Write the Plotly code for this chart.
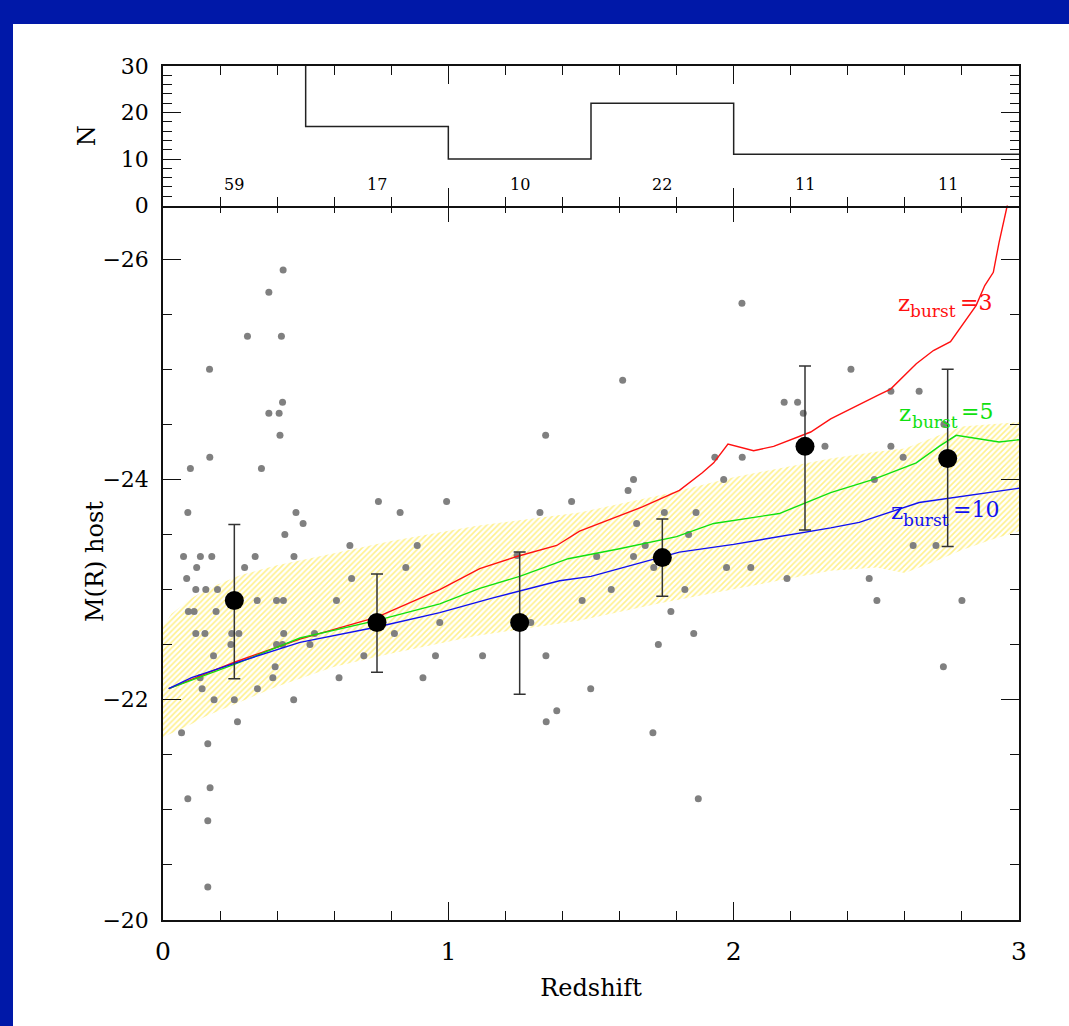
import plotly.graph_objects as go

# ---------------- data ----------------
# host galaxies: redshift / absolute magnitude M(R)
host_z = [0.421, 0.371, 0.296, 0.415, 0.163, 0.419, 0.371, 0.407, 0.410, 0.164,
          0.096, 0.345, 0.087, 0.466, 0.491, 0.427, 0.072, 0.131, 0.171, 0.323,
          0.459, 0.118, 0.286, 0.083, 0.115, 0.150, 0.191, 0.330, 0.398, 0.422,
          0.608, 0.089, 0.109, 0.186, 0.115, 0.147, 0.241, 0.266, 0.423, 0.238,
          0.398, 0.419, 0.177, 0.393, 0.130, 0.385, 0.617, 0.137, 0.331, 0.179,
          0.250, 0.458, 0.261, 0.065, 0.157, 0.087, 0.165, 0.157, 0.157,
          0.531, 0.515, 0.755, 0.994, 0.831, 0.655, 0.891, 0.851, 0.661, 0.970,
          0.811, 0.704, 0.955, 0.911,
          1.432, 1.321, 1.241, 1.289, 1.120, 1.342, 1.380, 1.343, 1.341, 1.469, 1.499,
          1.611, 1.934, 1.649, 1.965, 1.630, 1.757, 1.868, 1.660, 1.842, 1.690,
          1.520, 1.649, 1.720, 1.975, 1.571, 1.829, 1.780, 1.860, 1.736, 1.717, 1.876,
          2.029, 2.030, 2.177, 2.224, 2.244, 2.320, 2.060, 2.187, 2.411, 2.493, 2.475,
          2.551, 2.650, 2.737, 2.551, 2.594, 2.629, 2.709, 2.502, 2.800, 2.735]
host_M = [-25.90, -25.70, -25.30, -25.30, -25.00, -24.70, -24.60, -24.60, -24.40, -24.20,
          -24.10, -24.10, -23.70, -23.70, -23.60, -23.50, -23.30, -23.30, -23.30, -23.30,
          -23.30, -23.20, -23.20, -23.10, -23.00, -23.00, -23.00, -22.90, -22.90, -22.90,
          -22.90, -22.80, -22.80, -22.80, -22.60, -22.60, -22.60, -22.60, -22.60, -22.50,
          -22.50, -22.50, -22.40, -22.30, -22.20, -22.20, -22.20, -22.10, -22.10, -22.00,
          -22.00, -22.00, -21.80, -21.70, -21.60, -21.10, -21.20, -20.90, -20.30,
          -22.60, -22.50, -23.80, -23.80, -23.70, -23.40, -23.40, -23.20, -23.10, -22.70,
          -22.60, -22.40, -22.40, -22.20,
          -23.80, -23.70, -23.31, -22.70, -22.40, -22.40, -21.90, -21.80, -24.40, -22.90, -22.10,
          -24.90, -24.20, -24.00, -24.00, -23.90, -23.70, -23.70, -23.60, -23.50, -23.40,
          -23.30, -23.30, -23.20, -23.20, -23.00, -23.00, -22.80, -22.60, -22.50, -21.70, -21.10,
          -25.60, -24.20, -24.70, -24.70, -24.60, -24.30, -23.20, -23.10, -25.00, -24.00, -23.10,
          -24.80, -24.80, -24.50, -24.30, -24.20, -23.40, -23.40, -22.90, -22.90, -22.30]

# binned means with errors
bin_z = [0.25, 0.75, 1.25, 1.75, 2.25, 2.75]
bin_M = [-22.90, -22.70, -22.70, -23.29, -24.30, -24.19]
bin_err_bright = [0.69, 0.44, 0.64, 0.35, 0.73, 0.81]
bin_err_faint = [0.71, 0.45, 0.65, 0.35, 0.76, 0.80]

# histogram of objects per redshift bin
hist_edges = [0.0, 0.5, 1.0, 1.5, 2.0, 2.5, 3.0]
hist_counts = [59, 17, 10, 22, 11, 11]
hist_labels = ["59", "17", "10", "22", "11", "11"]

# evolutionary tracks
red_z = [0.02, 0.25, 0.48, 0.75, 0.97, 1.11, 1.24, 1.38, 1.46, 1.68, 1.81, 1.89, 1.93,
         1.98, 2.07, 2.14, 2.27, 2.34, 2.51, 2.55, 2.64, 2.70, 2.76, 2.80, 2.85, 2.88,
         2.91, 2.93, 2.96, 2.965]
red_M = [-22.10, -22.34, -22.55, -22.75, -23.00, -23.19, -23.30, -23.40, -23.53, -23.75,
         -23.90, -24.06, -24.15, -24.32, -24.26, -24.30, -24.43, -24.55, -24.77, -24.82,
         -25.05, -25.17, -25.25, -25.40, -25.58, -25.76, -25.88, -26.15, -26.50, -26.60]
green_z = [0.02, 0.25, 0.48, 0.75, 0.97, 1.11, 1.25, 1.42, 1.60, 1.80, 1.93, 2.16, 2.34,
           2.49, 2.64, 2.72, 2.78, 2.93, 3.0]
green_M = [-22.10, -22.32, -22.56, -22.72, -22.87, -23.01, -23.12, -23.28, -23.37, -23.48,
           -23.60, -23.69, -23.88, -24.00, -24.15, -24.30, -24.40, -24.34, -24.36]
blue_z = [0.02, 0.10, 0.25, 0.48, 0.75, 0.97, 1.15, 1.39, 1.50, 1.67, 1.81, 2.00, 2.16,
          2.34, 2.44, 2.65, 3.0]
blue_M = [-22.10, -22.20, -22.33, -22.52, -22.66, -22.79, -22.92, -23.08, -23.12, -23.24,
          -23.34, -23.41, -23.48, -23.56, -23.61, -23.79, -23.92]

# shaded band
band_z = [0.0, 0.03, 0.1, 0.15, 0.27, 0.4, 0.6, 0.8, 1.1, 1.46, 1.75, 2.0, 2.34, 2.5,
          2.6, 2.7, 2.8, 2.9, 3.0]
band_upper = [-22.66, -22.78, -22.92, -23.00, -23.13, -23.22, -23.33, -23.44, -23.58,
              -23.70, -23.86, -24.02, -24.19, -24.25, -24.28, -24.38, -24.48, -24.50, -24.52]
band_lower = [-21.66, -21.70, -21.78, -21.85, -21.98, -22.12, -22.30, -22.42, -22.58,
              -22.72, -22.88, -23.00, -23.17, -23.20, -23.15, -23.25, -23.36, -23.45, -23.53]

track_labels = ["3", "5", "10"]

# ---------------- figure ----------------
FONT = "DejaVu Serif"
fig = go.Figure()

# band
fig.add_trace(go.Scatter(
    x=band_z + band_z[::-1], y=band_upper + band_lower[::-1],
    fill="toself", mode="lines", line=dict(width=0, color="rgba(0,0,0,0)"),
    fillcolor="white",
    fillpattern=dict(shape="/", fgcolor="#FFE21A", bgcolor="white", size=4, solidity=0.4),
    hoverinfo="skip", showlegend=False, xaxis="x", yaxis="y"))

# host points
fig.add_trace(go.Scatter(x=host_z, y=host_M, mode="markers",
                         marker=dict(size=7, color="#808080"), showlegend=False))

# tracks
track_colors = ["#FF1010", "#10E010", "#1010F0"]
for zz, mm, col in zip([red_z, green_z, blue_z], [red_M, green_M, blue_M], track_colors):
    fig.add_trace(go.Scatter(x=zz, y=mm, mode="lines", line=dict(color=col, width=1.4),
                             showlegend=False))

# binned means
fig.add_trace(go.Scatter(
    x=bin_z, y=bin_M, mode="markers",
    marker=dict(size=19, color="black"),
    error_y=dict(type="data", symmetric=False, array=bin_err_faint,
                 arrayminus=bin_err_bright, color="#333333", thickness=1.5, width=6),
    showlegend=False))

# histogram step line
fig.add_trace(go.Scatter(x=hist_edges, y=hist_counts + [hist_counts[-1]], mode="lines",
                         line=dict(color="#222222", width=1.5, shape="hv"),
                         xaxis="x2", yaxis="y2", showlegend=False))

axis_common = dict(showline=True, linecolor="#111111", linewidth=1.5, mirror="ticks",
                   ticks="inside", tickcolor="#111111", tickwidth=1.3, ticklen=18,
                   showgrid=False, zeroline=False)

MAIN_TOP = 0.8384
HIST_BOTTOM = MAIN_TOP - 1.5 / 854

fig.update_layout(
    width=1069, height=1026,
    margin=dict(l=163, r=50, t=66, b=106),
    paper_bgcolor="white", plot_bgcolor="white",
    font=dict(family=FONT, color="black"),
    xaxis=dict(domain=[0, 1], range=[0, 3], dtick=1, tick0=0, anchor="y",
               tickfont=dict(size=25), ticklabelstandoff=8,
               minor=dict(dtick=0.2, ticks="inside", ticklen=9, tickcolor="#111111", tickwidth=1.3),
               title=dict(text="Redshift", font=dict(size=24), standoff=14),
               **axis_common),
    yaxis=dict(domain=[0, MAIN_TOP], range=[-20, -26.5], dtick=2, tick0=-20, anchor="x",
               tickfont=dict(size=22), ticklabelstandoff=8,
               minor=dict(dtick=0.5, ticks="inside", ticklen=9, tickcolor="#111111", tickwidth=1.3),
               **axis_common),
    xaxis2=dict(domain=[0, 1], range=[0, 3], dtick=1, tick0=0, anchor="y2",
                matches="x", showticklabels=False,
                minor=dict(dtick=0.2, ticks="inside", ticklen=9, tickcolor="#111111", tickwidth=1.3),
                **axis_common),
    yaxis2=dict(domain=[HIST_BOTTOM, 1], range=[0, 30], dtick=10, tick0=0, anchor="x2",
                tickfont=dict(size=22), ticklabelstandoff=8,
                minor=dict(dtick=2, ticks="inside", ticklen=9, tickcolor="#111111", tickwidth=1.3),
                title=dict(text="N", font=dict(size=24), standoff=18),
                **axis_common),
)

# main y-axis title (placed close to the tick labels as in the original)
fig.add_annotation(x=(95 - 163) / 856, y=MAIN_TOP / 2, xref="paper", yref="paper",
                   text="M(R) host", textangle=-90, showarrow=False,
                   xanchor="center", yanchor="middle", font=dict(family=FONT, size=24))

# counts per bin
bin_centers = [(hist_edges[i] + hist_edges[i + 1]) / 2 for i in range(len(hist_counts))]
for cx, lab in zip(bin_centers, hist_labels):
    fig.add_annotation(x=cx, y=4.6, xref="x2", yref="y2", text=lab, showarrow=False,
                       xanchor="center", yanchor="middle", font=dict(family=FONT, size=16))

# track labels: "z", subscript "burst", "=N" as separate pieces
label_parts = [
    # (z_x, z_y, sub_x, sub_y, eq_x, eq_y)
    (2.572, -25.60, 2.616, -25.53, 2.790, -25.61),
    (2.576, -24.60, 2.620, -24.52, 2.794, -24.62),
    (2.548, -23.71, 2.590, -23.63, 2.764, -23.73),
]
for (zx, zy, sx, sy, ex, ey), lab, col in zip(label_parts, track_labels, track_colors):
    for tx, ty, txt, fs in [(zx, zy, "z", 23), (sx, sy, "burst", 17), (ex, ey, "=" + lab, 22)]:
        fig.add_annotation(x=tx, y=ty, xref="x", yref="y", xanchor="left", yanchor="middle",
                           text=txt, showarrow=False, borderpad=0,
                           font=dict(family=FONT, size=fs, color=col))

# blue frame (left and top stripes)
fig.add_shape(type="rect", xref="paper", yref="paper", x0=-0.2, x1=(13 - 163) / 856,
              y0=-0.2, y1=1.2, fillcolor="#0018A8", line=dict(width=0), layer="above")
fig.add_shape(type="rect", xref="paper", yref="paper", x0=-0.2, x1=1.2,
              y0=(920 - 24) / 854, y1=1.2, fillcolor="#0018A8", line=dict(width=0), layer="above")

fig.write_html("out.html")
